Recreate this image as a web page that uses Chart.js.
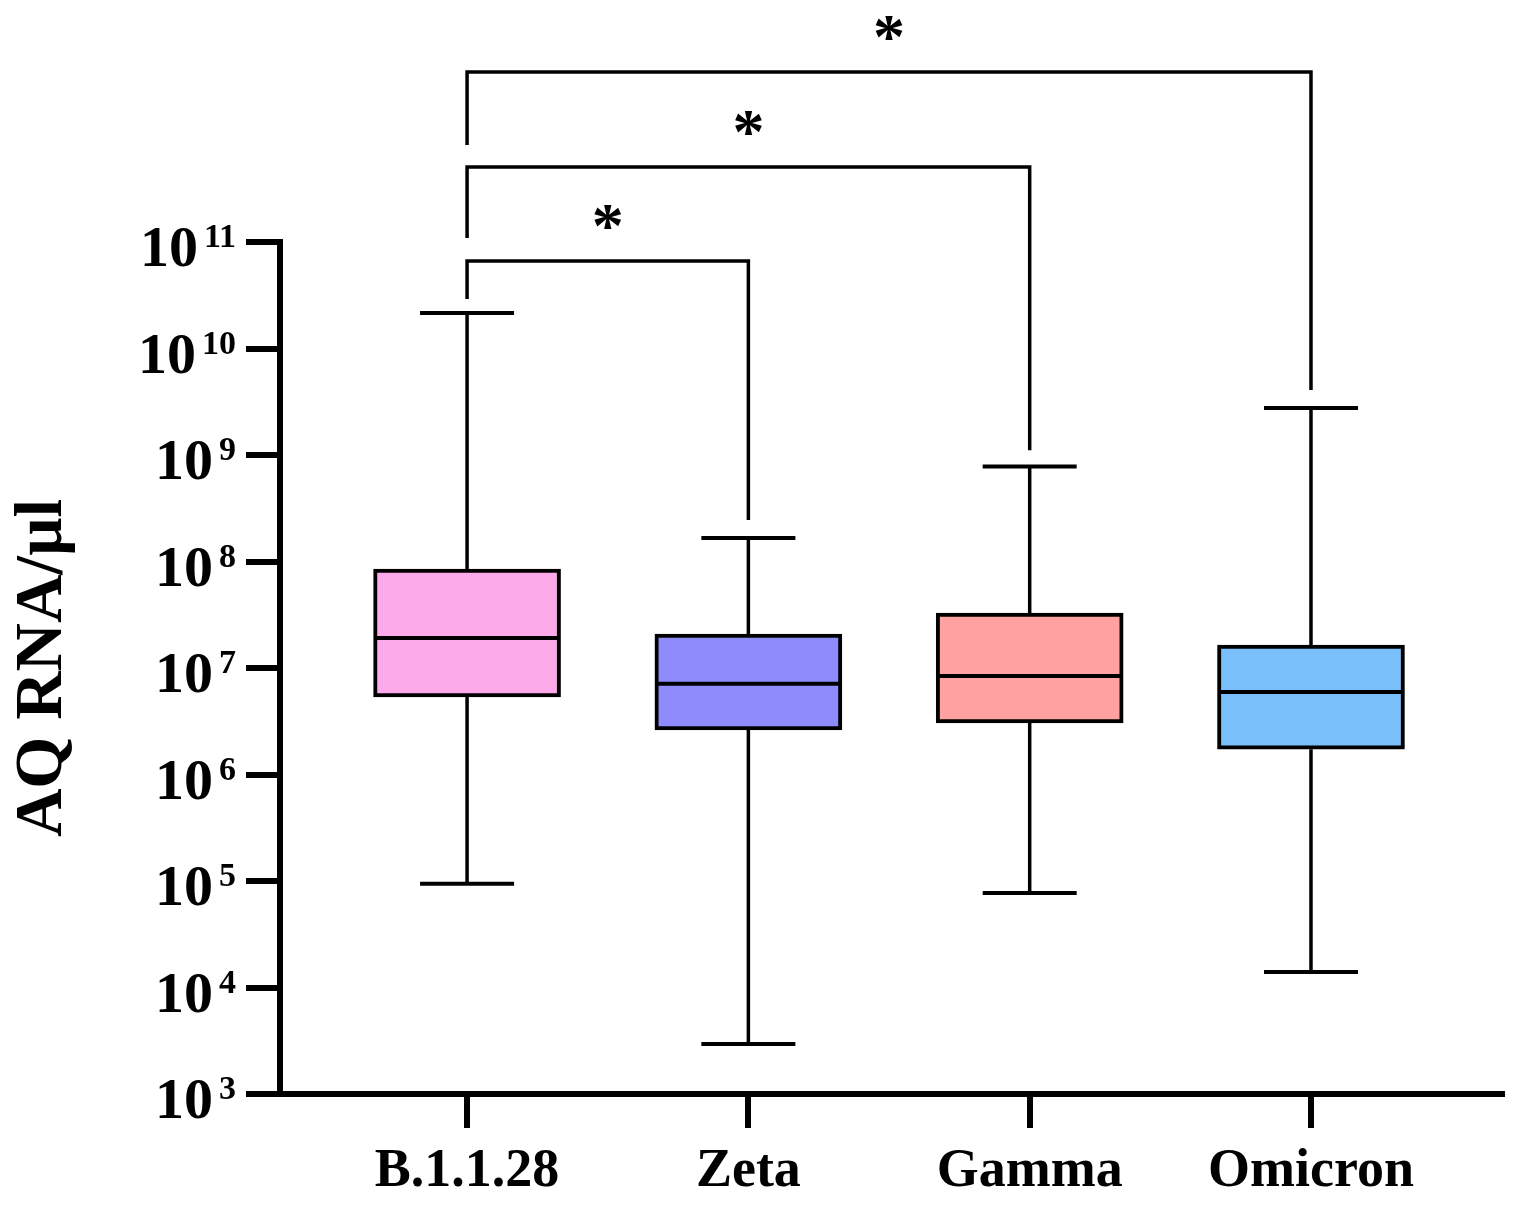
<!DOCTYPE html>
<html>
<head>
<meta charset="utf-8">
<script src="https://cdn.jsdelivr.net/npm/chart.js@4/dist/chart.umd.min.js"></script>
<style>
html,body{margin:0;padding:0;background:#fff;}
#wrap{width:1516px;height:1208px;}
</style>
</head>
<body>
<div id="wrap"><canvas id="c" width="1516" height="1208"></canvas></div>
<script>
// ---- data ----
const categories = ['B.1.1.28', 'Zeta', 'Gamma', 'Omicron'];
const whiskerMax = [2.15e10, 1.66e8, 7.8e8, 2.76e9];
const q3 = [8.5e7, 2.08e7, 3.28e7, 1.64e7];
const median = [1.91e7, 7.1e6, 8.4e6, 5.95e6];
const q1 = [5.34e6, 2.62e6, 3.05e6, 1.73e6];
const whiskerMin = [9.4e4, 2.95e3, 7.7e4, 1.4e4];
const boxColors = ['#FDAAEA', '#8E8CFD', '#FDA1A1', '#79BFFA'];

const yExponents = [3, 4, 5, 6, 7, 8, 9, 10, 11];
const yTitle = 'AQ RNA/\u00B5l';

// significance brackets: pair of category indices, bracket level, leg end levels, label
const bracketPairs = [[0, 1], [0, 2], [0, 3]];
const bracketLevel = [6.64e10, 5.06e11, 3.94e12];
const bracketLeftEnd = [2.92e10, 1.09e11, 8.15e11];
const bracketRightEnd = [2.45e8, 1.11e9, 4.07e9];
const bracketLabels = ['*', '*', '*'];

const FONT = "'Liberation Serif','Times New Roman',serif";

const extras = {
  id: 'extras',
  afterDatasetsDraw(chart) {
    const ctx = chart.ctx, xs = chart.scales.x, ys = chart.scales.y;
    ctx.save();
    ctx.strokeStyle = '#000';
    ctx.fillStyle = '#000';
    ctx.lineCap = 'butt';
    categories.forEach((c, i) => {
      const x = xs.getPixelForValue(i);
      // whiskers
      ctx.lineWidth = 3.5;
      ctx.beginPath();
      ctx.moveTo(x, ys.getPixelForValue(q3[i]));
      ctx.lineTo(x, ys.getPixelForValue(whiskerMax[i]));
      ctx.moveTo(x, ys.getPixelForValue(q1[i]));
      ctx.lineTo(x, ys.getPixelForValue(whiskerMin[i]));
      ctx.stroke();
      // caps
      ctx.lineWidth = 4;
      ctx.beginPath();
      [whiskerMax[i], whiskerMin[i]].forEach(v => {
        const y = ys.getPixelForValue(v);
        ctx.moveTo(x - 47, y);
        ctx.lineTo(x + 47, y);
      });
      ctx.stroke();
      // median
      const ym = ys.getPixelForValue(median[i]);
      ctx.beginPath();
      ctx.moveTo(x - 92, ym);
      ctx.lineTo(x + 92, ym);
      ctx.stroke();
    });
    // brackets
    ctx.lineWidth = 3.5;
    bracketPairs.forEach((p, k) => {
      const xa = xs.getPixelForValue(p[0]);
      const xb = xs.getPixelForValue(p[1]);
      const yl = ys.getPixelForValue(bracketLevel[k]);
      ctx.beginPath();
      ctx.moveTo(xa, ys.getPixelForValue(bracketLeftEnd[k]));
      ctx.lineTo(xa, yl);
      ctx.lineTo(xb, yl);
      ctx.lineTo(xb, ys.getPixelForValue(bracketRightEnd[k]));
      ctx.stroke();
      ctx.font = 'bold 64px ' + FONT;
      ctx.textAlign = 'center';
      ctx.textBaseline = 'alphabetic';
      ctx.fillText(bracketLabels[k], (xa + xb) / 2, yl - 14);
    });
    // y tick labels 10^n
    const rightEdge = 236;
    yExponents.forEach(e => {
      const y = ys.getPixelForValue(Math.pow(10, e));
      ctx.textAlign = 'right';
      ctx.textBaseline = 'alphabetic';
      ctx.font = 'bold 34px ' + FONT;
      const ew = ctx.measureText(String(e)).width;
      ctx.fillText(String(e), rightEdge, y + 5);
      ctx.font = 'bold 58px ' + FONT;
      ctx.fillText('10', rightEdge - ew - 6, y + 24);
    });
    ctx.restore();
  }
};

new Chart(document.getElementById('c'), {
  type: 'bar',
  data: {
    datasets: [{
      data: categories.map((c, i) => ({ x: i, y: [q1[i], q3[i]] })),
      backgroundColor: boxColors,
      borderColor: '#000',
      borderWidth: 4,
      borderSkipped: false,
      barThickness: 187
    }]
  },
  options: {
    responsive: false,
    animation: false,
    devicePixelRatio: 1,
    events: [],
    layout: { padding: { top: 242, right: 14, left: 0, bottom: 0 } },
    plugins: { legend: { display: false }, tooltip: { enabled: false } },
    scales: {
      x: {
        type: 'linear',
        offset: false,
        min: -0.665,
        max: 3.679,
        afterBuildTicks(s) { s.ticks = categories.map((c, i) => ({ value: i })); },
        afterFit(s) { s.height = 114; },
        grid: { display: true, offset: false, drawOnChartArea: false, drawTicks: true, tickLength: 34, lineWidth: 6, color: '#000' },
        border: { display: true, width: 6, color: '#000' },
        ticks: {
          callback: (v) => categories[v] !== undefined ? categories[v] : '',
          font: { family: FONT, size: 54, weight: 'bold' },
          color: '#000',
          padding: 12,
          maxRotation: 0,
          autoSkip: false
        }
      },
      y: {
        type: 'logarithmic',
        min: 1e3,
        max: 1e11,
        afterBuildTicks(s) { s.ticks = yExponents.map(e => ({ value: Math.pow(10, e) })); },
        afterFit(s) { s.width = 280; },
        grid: { display: true, drawOnChartArea: false, drawTicks: true, tickLength: 34, lineWidth: 6, color: '#000' },
        border: { display: true, width: 6, color: '#000' },
        ticks: { display: false },
        title: {
          display: true,
          text: yTitle,
          font: { family: FONT, size: 67, weight: 'bold' },
          color: '#000',
          padding: { top: 3, bottom: 0 }
        }
      }
    }
  },
  plugins: [extras]
});
</script>
</body>
</html>
